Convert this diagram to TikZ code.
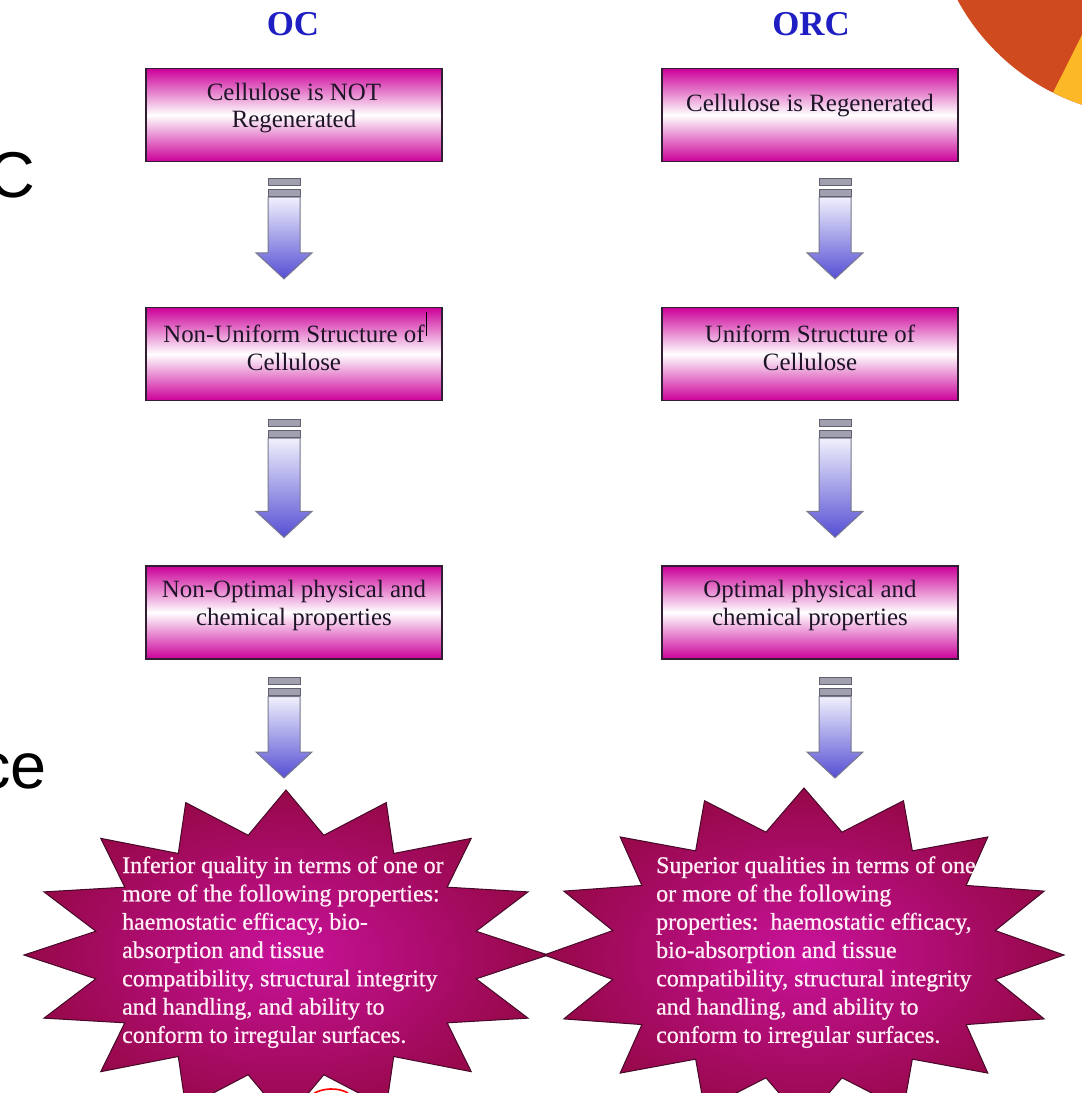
\documentclass[tikz,border=0pt]{standalone}
\usepackage{fontspec}
\setmainfont{Liberation Serif}
\newfontfamily\slidefont{Liberation Sans}
\newfontfamily\starfont{Liberation Serif}[FakeBold=0.8]
\usetikzlibrary{calc}
\definecolor{boxmag}{RGB}{204,0,153}
\definecolor{boxedge}{RGB}{50,30,50}
\definecolor{boxtxt}{RGB}{30,20,40}
\definecolor{titleblue}{RGB}{30,30,195}
\definecolor{starin}{RGB}{200,18,155}
\definecolor{starout}{RGB}{150,8,72}
\definecolor{starline}{RGB}{70,10,40}
\definecolor{startxt}{RGB}{255,238,246}
\definecolor{arrtop}{RGB}{240,240,252}
\definecolor{arrbot}{RGB}{85,78,212}
\definecolor{arrline}{RGB}{120,120,140}
\definecolor{stripegray}{RGB}{160,160,175}
\definecolor{orng}{RGB}{208,74,32}
\definecolor{yllw}{RGB}{253,184,39}
\newcommand\blockarrow[2]{%
 \path[arrowbody] let \p1=(#1), \p2=(#2) in
  (\x1-16bp,\y1-19bp) -- (\x1+16bp,\y1-19bp) -- (\x1+16bp,\y2+26bp) -- (\x1+28bp,\y2+26bp)
  -- (\x1,\y2) -- (\x1-28bp,\y2+26bp) -- (\x1-16bp,\y2+26bp) -- cycle;
 \path[stripe] let \p1=(#1) in (\x1-16bp,\y1) rectangle (\x1+16bp,\y1-7bp);
 \path[stripe] let \p1=(#1) in (\x1-16bp,\y1-11bp) rectangle (\x1+16bp,\y1-18bp);
}
\begin{document}
\begin{tikzpicture}[x=1bp,y=-1bp,
 box/.style={draw=boxedge, line width=1.3bp, minimum width=296bp, minimum height=93bp, inner sep=0,
   top color=boxmag, bottom color=boxmag, middle color=white},
 boxtext/.style={text=boxtxt, align=center, font=\fontsize{25}{28}\selectfont, inner sep=0},
 titletext/.style={text=titleblue, font=\fontsize{35}{40}\selectfont\bfseries, inner sep=0},
 startext/.style={text=startxt, align=left, font=\starfont\fontsize{24}{28.4}\selectfont, inner sep=0, anchor=north west},
 starbody/.style={draw=starline, line width=1bp, inner color=starin, outer color=starout},
 arrowbody/.style={draw=arrline, line width=1bp, top color=arrtop, bottom color=arrbot},
 stripe/.style={draw=arrline!80!black, line width=0.9bp, fill=stripegray},
 sidetext/.style={font=\slidefont\fontsize{65}{70}\selectfont, inner sep=0, anchor=base east}]
\useasboundingbox (0,0) rectangle (1082,1093);
\fill[white] (0,0) rectangle (1082,1093);
\clip (0,0) rectangle (1082,1093);

% slide decoration
\coordinate (disc) at (1152,-105);
\fill[orng] (disc) circle[radius=221];
\fill[yllw] (disc) -- ++(116.6:221) arc[start angle=116.6, end angle=20, radius=221] -- cycle;

% partial slide text
\node[sidetext] (sideC) at (35,197) {C};
\node[sidetext] (sidece) at (47,788) {ce};

% titles
\node[titletext] (tOC) at (293,24) {OC};
\node[titletext] (tORC) at (811,24) {ORC};

% boxes
\node[box] (L1) at (294,115) {};
\node[box] (L2) at (294,354) {};
\node[box] (L3) at (294,612.5) {};
\node[box] (R1) at (810,115) {};
\node[box] (R2) at (810,354) {};
\node[box] (R3) at (810,612.5) {};

\node[boxtext] (L1t) at ($(L1.center)+(0,-7)$) {Cellulose is NOT\\Regenerated};
\node[boxtext] (R1t) at ($(R1.center)+(0,-9)$) {Cellulose is Regenerated};
\node[boxtext] (L2t) at ($(L2.center)+(0,-6)$) {Non-Uniform Structure of\\Cellulose};
\node[boxtext] (R2t) at ($(R2.center)+(0,-6)$) {Uniform Structure of\\Cellulose};
\node[boxtext] (L3t) at ($(L3.center)+(0,-7)$) {Non-Optimal physical and\\chemical properties};
\node[boxtext] (R3t) at ($(R3.center)+(0,-7)$) {Optimal physical and\\chemical properties};
\draw[black, line width=1bp] ($(L2.north east)+(-16,5)$) -- ($(L2.north east)+(-16,29)$);

% stars
\draw[starbody] plot[samples at={0,...,31}, variable=\k]
 ({286+(1-0.26*mod(\k,2))*262*cos(\k*11.25)}, {955-(1-0.26*mod(\k,2))*165*sin(\k*11.25)}) -- cycle;
\draw[starbody] plot[samples at={0,...,31}, variable=\k]
 ({804+(1-0.25*mod(\k,2))*260*cos(\k*11.25)}, {955-(1-0.25*mod(\k,2))*167*sin(\k*11.25)}) -- cycle;
\coordinate (LS) at (285,790);
\coordinate (RS) at (835,790);
\node[startext] (LSt) at (122,856) {Inferior quality in terms of one or\\more of the following properties:\\haemostatic efficacy, bio-\\absorption and tissue\\compatibility, structural integrity\\and handling, and ability to\\conform to irregular surfaces.};
\node[startext] (RSt) at (656,856) {Superior qualities in terms of one\\or more of the following\\properties:\ \ haemostatic efficacy,\\bio-absorption and tissue\\compatibility, structural integrity\\and handling, and ability to\\conform to irregular surfaces.};
\draw[red, line width=1.6bp] (313,1094) .. controls (322,1088) and (338,1087) .. (348,1093);

% block arrows
\coordinate (a1s) at ($(L1.south)+(-10,16)$); \coordinate (a1e) at ($(L2.north)+(-10,-28)$);
\coordinate (a2s) at ($(L2.south)+(-10,18)$); \coordinate (a2e) at ($(L3.north)+(-10,-28)$);
\coordinate (a3s) at ($(L3.south)+(-10,18)$); \coordinate (a3e) at ($(LS)+(0,-12)$);
\coordinate (b1s) at ($(R1.south)+(25,16)$); \coordinate (b1e) at ($(R2.north)+(25,-28)$);
\coordinate (b2s) at ($(R2.south)+(25,18)$); \coordinate (b2e) at ($(R3.north)+(25,-28)$);
\coordinate (b3s) at ($(R3.south)+(25,18)$); \coordinate (b3e) at ($(RS)+(0,-12)$);
\blockarrow{a1s}{a1e}
\blockarrow{a2s}{a2e}
\blockarrow{a3s}{a3e}
\blockarrow{b1s}{b1e}
\blockarrow{b2s}{b2e}
\blockarrow{b3s}{b3e}
\end{tikzpicture}
\end{document}
